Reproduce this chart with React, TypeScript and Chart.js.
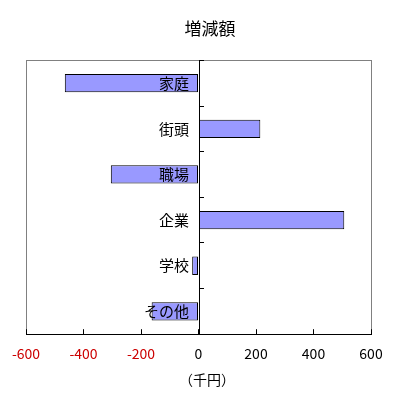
import React, { useEffect, useRef } from "react";
import { Chart, registerables } from "chart.js";

Chart.register(...registerables);

const categories = ["家庭", "街頭", "職場", "企業", "学校", "その他"];
const values = [-465, 215, -305, 507, -22, -163];
const titleText = "増減額";
const xAxisTitle = "（千円）";
const xMin = -600;
const xMax = 600;
const xStep = 200;

const FONT = "'Noto Sans CJK JP', 'Noto Sans', sans-serif";

const framePlugin = {
  id: "frame",
  afterLayout(chart: any) {
    const y = chart.scales.y;
    const x = chart.scales.x;
    const zero = Math.round(x.getPixelForValue(0));
    y.left = chart.chartArea.left;
    y.right = zero;
  },
  beforeDraw(chart: any) {
    const { ctx, chartArea } = chart;
    ctx.save();
    ctx.strokeStyle = "#808080";
    ctx.lineWidth = 1;
    ctx.strokeRect(
      Math.round(chartArea.left) + 0.5,
      Math.round(chartArea.top) + 0.5,
      Math.round(chartArea.right - chartArea.left),
      Math.round(chartArea.bottom - chartArea.top)
    );
    ctx.restore();
  },
  afterDraw(chart: any) {
    const { ctx, chartArea } = chart;
    ctx.save();
    ctx.fillStyle = "#000";
    ctx.font = `14px ${FONT}`;
    ctx.textAlign = "center";
    ctx.textBaseline = "middle";
    ctx.fillText(xAxisTitle, (chartArea.left + chartArea.right) / 2 + 8.5, chartArea.bottom + 45);
    ctx.restore();
  },
};

export default function App() {
  const ref = useRef<HTMLCanvasElement>(null);
  useEffect(() => {
    if (!ref.current) return;
    const chart = new Chart(ref.current, {
      type: "bar",
      data: {
        labels: categories,
        datasets: [
          {
            data: values,
            backgroundColor: "#9999ff",
            borderColor: "#000",
            borderWidth: 1,
            borderSkipped: false,
            barPercentage: 0.4,
            categoryPercentage: 1,
          },
        ],
      },
      options: {
        indexAxis: "y",
        animation: false,
        responsive: false,
        devicePixelRatio: 1,
        layout: { padding: { left: 26, right: 0, top: 0, bottom: 26 } },
        plugins: {
          legend: { display: false },
          tooltip: { enabled: false },
          title: {
            display: true,
            text: titleText,
            color: "#000",
            font: { family: FONT, size: 17, weight: "normal" },
            padding: { top: 18, bottom: 22 },
          },
        },
        scales: {
          x: {
            type: "linear",
            min: xMin,
            max: xMax,
            afterFit(scale: any) {
              scale.paddingRight = 23;
              scale.paddingLeft = 0;
            },
            ticks: {
              stepSize: xStep,
              color: (c: any) => (c.tick && c.tick.value < 0 ? "#cc0000" : "#000"),
              font: { family: FONT, size: 14 },
              padding: 16,
              maxRotation: 0,
            },
            grid: {
              drawOnChartArea: false,
              drawTicks: true,
              tickLength: -5,
              tickColor: "#000",
            },
            border: { display: true, color: "#000", width: 1 },
          },
          y: {
            type: "category",
            position: "left",
            afterFit(scale: any) {
              scale.width = 0;
              scale.paddingTop = 0;
              scale.paddingBottom = 0;
            },
            ticks: {
              color: "#000",
              font: { family: FONT, size: 15 },
              padding: 15,
              autoSkip: false,
              z: 1,
            },
            grid: {
              offset: true,
              drawOnChartArea: false,
              drawTicks: true,
              tickLength: -5,
              tickColor: "#000",
              z: 1,
            },
            border: { display: true, color: "#000", width: 1, z: 1 },
          },
        },
      } as any,
      plugins: [framePlugin],
    });
    return () => chart.destroy();
  }, []);
  return (
    <div style={{ position: "fixed", left: 0, top: 0, width: 394, height: 404, background: "#fff" }}>
      <canvas ref={ref} width={394} height={404} style={{ width: 394, height: 404 }} />
    </div>
  );
}
